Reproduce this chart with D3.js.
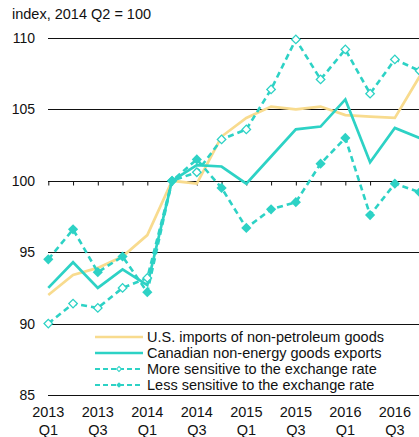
<!DOCTYPE html>
<html><head><meta charset="utf-8">
<script src="https://cdn.jsdelivr.net/npm/d3@7"></script>
<style>body{margin:0;background:#fff}svg{display:block;font-family:"Liberation Sans",Arial,sans-serif}</style>
</head><body>
<svg id="c" width="419" height="437"></svg>
<script>
const quarters = ["2013 Q1","2013 Q2","2013 Q3","2013 Q4","2014 Q1","2014 Q2","2014 Q3","2014 Q4",
  "2015 Q1","2015 Q2","2015 Q3","2015 Q4","2016 Q1","2016 Q2","2016 Q3","2016 Q4"];
const usImports = [92.0,93.4,93.9,94.7,96.2,100,99.8,103.1,104.4,105.2,105.0,105.2,104.6,104.5,104.4,107.3];
const canExports = [92.5,94.3,92.5,93.8,92.7,100,101.1,101.0,99.8,101.7,103.6,103.8,105.7,101.3,103.7,103.0];
const moreSensitive = [90.0,91.4,91.1,92.5,93.2,100,100.6,102.9,103.6,106.4,109.9,107.1,109.2,106.1,108.5,107.7];
const lessSensitive = [94.5,96.6,93.6,94.7,92.2,100,101.5,99.5,96.7,98.0,98.5,101.2,103.0,97.6,99.8,99.2];
const yTicks = [85,90,95,100,105,110];
const seriesNames = ["U.S. imports of non-petroleum goods","Canadian non-energy goods exports",
  "More sensitive to the exchange rate","Less sensitive to the exchange rate"];

const YELLOW = "#F8DB8E", TEAL = "#2DD2C5";
const svg = d3.select("#c");
const x = d3.scaleLinear().domain([0, quarters.length-1]).range([48.3, 419.6]);
const y = d3.scaleLinear().domain([85,110]).range([395, 38]);

// title
svg.append("text").attr("x",12).attr("y",19).attr("font-size",14.5).attr("fill","#111").text("index, 2014 Q2 = 100");

// grid lines
svg.append("g").selectAll("line").data(yTicks).join("line")
  .attr("x1",48).attr("x2",419)
  .attr("y1",d=>Math.round(y(d))+0.5).attr("y2",d=>Math.round(y(d))+0.5)
  .attr("stroke","#111").attr("stroke-width",1);
svg.append("g").selectAll("text").data(yTicks).join("text")
  .attr("x",35).attr("y",d=>y(d)).attr("dy","0.36em").attr("text-anchor","end")
  .attr("font-size",14).attr("fill","#111").text(d=>d);

// tick marks on the 100 line
const tickAxis = d3.axisBottom(x).tickValues(d3.range(quarters.length)).tickSize(4).tickFormat("");
const tg = svg.append("g").attr("transform",`translate(0,${Math.round(y(100))+0.5})`).call(tickAxis);
tg.select(".domain").remove();
tg.selectAll("line").attr("stroke","#111");

// bottom labels
const labIdx = d3.range(0, quarters.length, 2);
const bl = svg.append("g").selectAll("text").data(labIdx).join("text")
  .attr("text-anchor","middle").attr("font-size",14.5).attr("fill","#111");
bl.append("tspan").attr("x",d=>x(d)).attr("y",417).text(d=>quarters[d].split(" ")[0]);
bl.append("tspan").attr("x",d=>x(d)).attr("y",435).text(d=>quarters[d].split(" ")[1]);

const line = d3.line().x((d,i)=>x(i)).y(d=>y(d));
const plot = svg.append("g");
plot.append("path").datum(usImports).attr("d",line).attr("fill","none").attr("stroke",YELLOW).attr("stroke-width",2.7);
plot.append("path").datum(canExports).attr("d",line).attr("fill","none").attr("stroke",TEAL).attr("stroke-width",2.7);
plot.append("path").datum(moreSensitive).attr("d",line).attr("fill","none").attr("stroke",TEAL).attr("stroke-width",2.6).attr("stroke-dasharray","6,4");
plot.append("path").datum(lessSensitive).attr("d",line).attr("fill","none").attr("stroke",TEAL).attr("stroke-width",2.6).attr("stroke-dasharray","6,4");

const sq = d3.symbol().type(d3.symbolSquare);
plot.append("g").selectAll("path").data(moreSensitive).join("path")
  .attr("d",sq.size(36)()).attr("transform",(d,i)=>`translate(${x(i)},${y(d)}) rotate(45)`)
  .attr("fill","#fff").attr("stroke",TEAL).attr("stroke-width",1.3);
plot.append("g").selectAll("path").data(lessSensitive).join("path")
  .attr("d",sq.size(52)()).attr("transform",(d,i)=>`translate(${x(i)},${y(d)}) rotate(45)`)
  .attr("fill",TEAL);

// legend
const lg = svg.append("g");
const rows = [337,353,369,385];
seriesNames.forEach((n,i)=>{
  const ry = rows[i];
  const col = i===0?YELLOW:TEAL;
  const l = lg.append("line").attr("x1",95).attr("x2",143).attr("y1",ry).attr("y2",ry)
    .attr("stroke",col).attr("stroke-width",2.7);
  if(i>=2){
    l.attr("stroke-dasharray","5,3").attr("stroke-width",2.2);
    lg.append("path").attr("d",d3.symbol().type(d3.symbolSquare).size(i===2?12:16)())
      .attr("transform",`translate(119,${ry}) rotate(45)`)
      .attr("fill",i===2?"#fff":TEAL).attr("stroke",TEAL).attr("stroke-width",i===2?1:0);
  }
  lg.append("text").attr("x",147).attr("y",ry).attr("dy","0.36em").attr("font-size",14.5).attr("fill","#111").text(n);
});
</script>
</body></html>
